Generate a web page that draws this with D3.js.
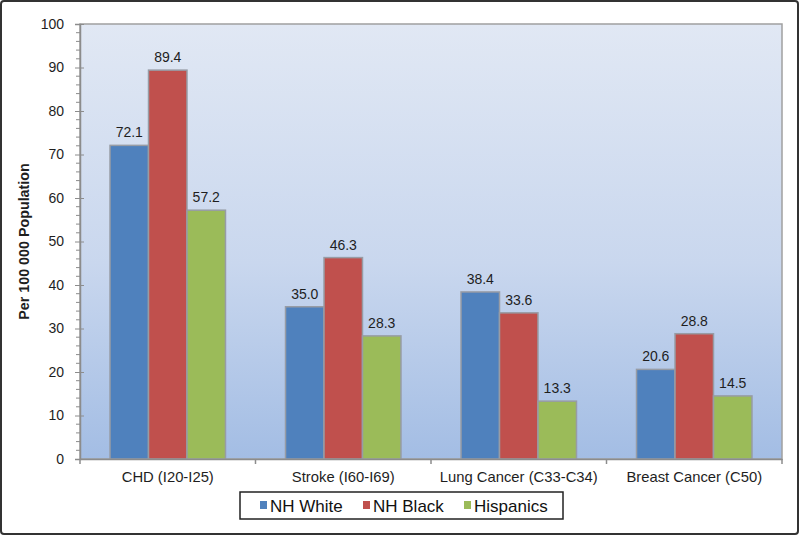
<!DOCTYPE html>
<html>
<head>
<meta charset="utf-8">
<script src="https://cdn.jsdelivr.net/npm/d3@7"></script>
<style>
html,body{margin:0;padding:0;background:#fff;}
svg{display:block;font-family:"Liberation Sans",Arial,sans-serif;}
</style>
</head>
<body>
<svg id="chart" width="800" height="537"></svg>
<script>
const categories = ["CHD (I20-I25)", "Stroke (I60-I69)", "Lung Cancer (C33-C34)", "Breast Cancer (C50)"];
const seriesNames = ["NH White", "NH Black", "Hispanics"];
const nhWhite = [72.1, 35.0, 38.4, 20.6];
const nhBlack = [89.4, 46.3, 33.6, 28.8];
const hispanics = [57.2, 28.3, 13.3, 14.5];
const colors = ["#4f81bd", "#c0504d", "#9bbb59"];
const yTicks = [0, 10, 20, 30, 40, 50, 60, 70, 80, 90, 100];
const yLabel = "Per 100 000 Population";

const seriesValues = [nhWhite, nhBlack, hispanics];
const svg = d3.select("#chart");

// outer frame
svg.append("rect").attr("x", 1).attr("y", 1).attr("width", 797).attr("height", 533)
  .attr("rx", 3).attr("fill", "#fff").attr("stroke", "#333").attr("stroke-width", 2);

const plot = {left: 80, right: 782, top: 24, bottom: 459};

const defs = svg.append("defs");
const grad = defs.append("linearGradient").attr("id", "bg").attr("x1", 0).attr("y1", 0).attr("x2", 0).attr("y2", 1);
grad.append("stop").attr("offset", "0%").attr("stop-color", "#e1e8f4");
grad.append("stop").attr("offset", "55%").attr("stop-color", "#c9d7ee");
grad.append("stop").attr("offset", "100%").attr("stop-color", "#a3bde4");

svg.append("rect").attr("x", plot.left).attr("y", plot.top)
  .attr("width", plot.right - plot.left).attr("height", plot.bottom - plot.top)
  .attr("fill", "url(#bg)").attr("stroke", "#a0a0a0").attr("stroke-width", 1.5);

const y = d3.scaleLinear().domain([0, 100]).range([plot.bottom, plot.top]);
const x0 = d3.scaleBand().domain(categories).range([plot.left, plot.right]).paddingInner(0).paddingOuter(0);
const x1 = d3.scaleBand().domain(seriesNames).range([0, x0.bandwidth()]).paddingInner(0).paddingOuter(0.78);

// bars
categories.forEach((cat, ci) => {
  const g = svg.append("g").attr("transform", `translate(${x0(cat)},0)`);
  seriesNames.forEach((s, si) => {
    const v = seriesValues[si][ci];
    g.append("rect").attr("x", x1(s)).attr("y", y(v))
      .attr("width", x1.bandwidth()).attr("height", y(0) - y(v))
      .attr("fill", colors[si]).attr("stroke", "#979ca5").attr("stroke-width", 1.5);
    g.append("text").attr("x", x1(s) + x1.bandwidth() / 2).attr("y", y(v) - 8)
      .attr("text-anchor", "middle").attr("font-size", 14).attr("fill", "#1e1e1e")
      .text(v.toFixed(1));
  });
});

// y axis
const yAxis = d3.axisLeft(y).tickValues(yTicks).tickSize(5).tickPadding(11).tickFormat(d3.format("d"));
const yg = svg.append("g").attr("transform", `translate(${plot.left},0)`).call(yAxis);
yg.select(".domain").attr("stroke", "#8c8c8c").attr("stroke-width", 1.5);
yg.selectAll(".tick line").attr("stroke", "#8c8c8c").attr("x2", -5).attr("x1", 4);
yg.selectAll(".tick text").attr("font-size", 14).attr("fill", "#1e1e1e").attr("font-family", "Liberation Sans, Arial, sans-serif");
// minor ticks
const minor = d3.range(0, 101, 2).filter(d => d % 10 !== 0);
svg.append("g").selectAll("line").data(minor).join("line")
  .attr("x1", plot.left - 4).attr("x2", plot.left).attr("y1", d => y(d)).attr("y2", d => y(d))
  .attr("stroke", "#8c8c8c").attr("stroke-width", 1);

// x axis
const xg = svg.append("g").attr("transform", `translate(0,${plot.bottom})`)
  .call(d3.axisBottom(x0).tickSize(0).tickPadding(12));
xg.select(".domain").attr("stroke", "#8c8c8c").attr("stroke-width", 1.5);
xg.selectAll(".tick text").attr("font-size", 14.8).attr("fill", "#1e1e1e").attr("font-family", "Liberation Sans, Arial, sans-serif");
const bounds = categories.map(c => x0(c)).concat([x0(categories[categories.length - 1]) + x0.bandwidth()]);
svg.append("g").selectAll("line").data(bounds).join("line")
  .attr("x1", d => d).attr("x2", d => d).attr("y1", plot.bottom).attr("y2", plot.bottom + 5)
  .attr("stroke", "#8c8c8c").attr("stroke-width", 1.5);

// y label
svg.append("text").attr("transform", `translate(29,${(plot.top + plot.bottom) / 2}) rotate(-90)`)
  .attr("text-anchor", "middle").attr("font-size", 14.3).attr("font-weight", "bold").attr("fill", "#1e1e1e")
  .text(yLabel);

// legend
const lg = svg.append("g");
lg.append("rect").attr("x", 240).attr("y", 492).attr("width", 323).attr("height", 27)
  .attr("fill", "#fff").attr("stroke", "#222").attr("stroke-width", 1.5);
const legendX = [260, 363, 464];
seriesNames.forEach((s, i) => {
  lg.append("rect").attr("x", legendX[i]).attr("y", 501).attr("width", 7).attr("height", 8).attr("fill", colors[i]);
  lg.append("text").attr("x", legendX[i] + 10).attr("y", 511.5).attr("font-size", 17).attr("fill", "#111").text(s);
});
</script>
</body>
</html>
